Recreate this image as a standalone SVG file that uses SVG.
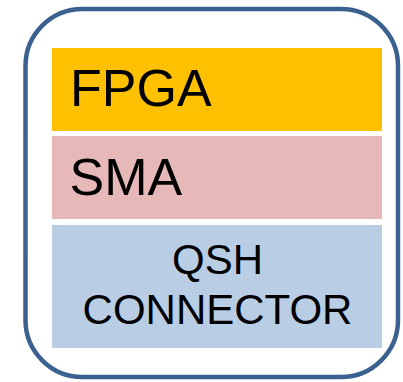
<svg xmlns="http://www.w3.org/2000/svg" width="403" height="382" viewBox="0 0 403 382">
  <style>
    .frame { fill: #ffffff; stroke: #3b6190; stroke-width: 4.5; }
    .label { font-family: "Liberation Sans", Arial, sans-serif; fill: #000000; }
    .big { font-size: 52px; }
    .small { font-size: 42px; text-anchor: middle; }
  </style>
  <rect width="403" height="382" fill="#ffffff"/>
  <g id="board">
    <rect class="frame" x="25.5" y="9" width="372.5" height="368" rx="57" ry="57"/>
  </g>
  <g id="fpga">
    <rect x="52" y="48" width="330" height="83" fill="#ffc000"/>
    <text class="label big" x="70" y="105.5">FPGA</text>
  </g>
  <g id="sma">
    <rect x="52" y="136" width="330" height="83" fill="#e6b9b8"/>
    <text class="label big" x="69.5" y="195">SMA</text>
  </g>
  <g id="qsh">
    <rect x="52" y="225" width="330" height="123" fill="#b9cde5"/>
    <text class="label small" x="217.5" y="273.5">QSH</text>
    <text class="label small" x="217.5" y="324">CONNECTOR</text>
  </g>
  <g id="connectors"/>
</svg>
